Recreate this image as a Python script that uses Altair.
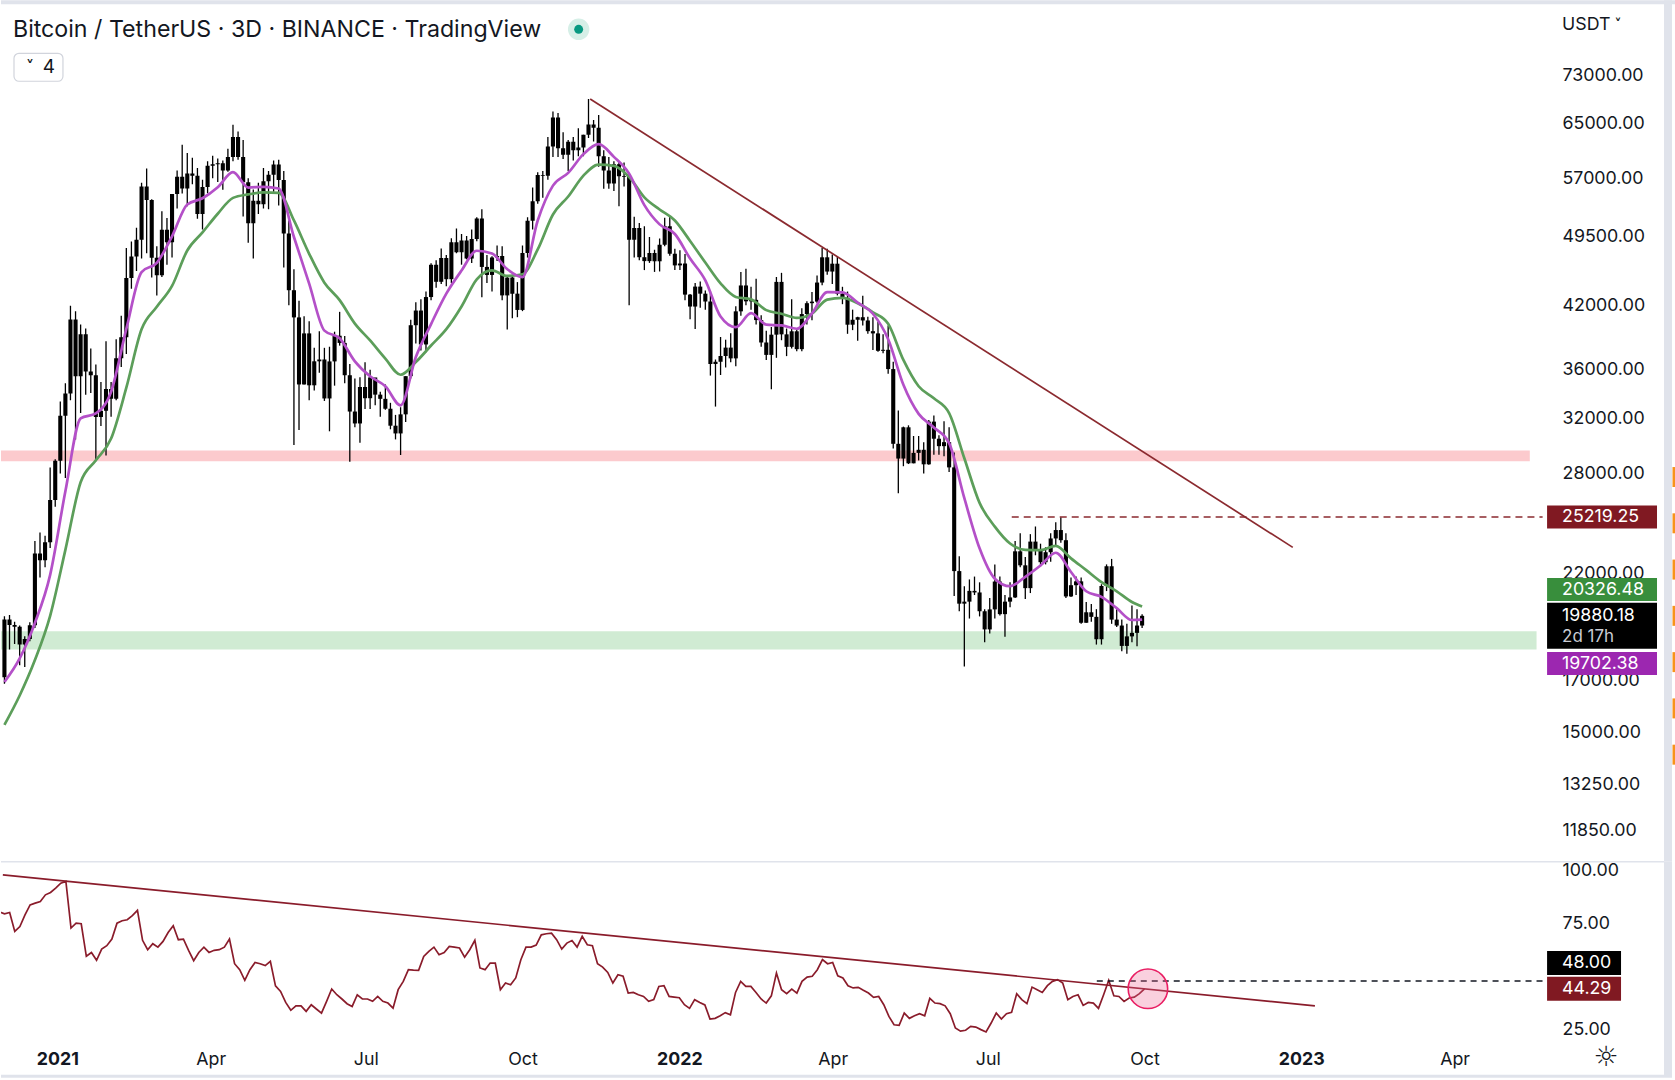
import altair as alt
import pandas as pd

# ---------------- data ----------------
BAR_START = "2020-11-28"          # 3-day bars
FIRST_OPEN = 17150

close = [19700, 19450, 19360, 18550, 18800, 19430, 23100, 22720, 23730, 26280,
         28880, 32180, 33950, 40580, 35400, 39150, 35790, 35470, 32090, 32570,
         34320, 33520, 36950, 38880, 44850, 47230, 49160, 55890, 54090, 47070,
         45140, 50350, 48880, 54880, 57220, 55630, 57650, 57350, 52300, 55820,
         58740, 58980, 59120, 58080, 60000, 62960, 60000, 56470, 51150, 54000,
         53560, 56610, 57500, 58930, 56770, 49920, 43540, 40780, 34700, 39240,
         34630, 36690, 36850, 33550, 36680, 39020, 38350, 35480, 32510, 31590,
         34490, 33570, 35290, 33860, 33520, 32730, 31420, 30840, 32290, 35400,
         40020, 41460, 38210, 42830, 46290, 44430, 47050, 44710, 48870, 47700,
         49070, 46990, 49250, 51760, 46050, 45170, 47110, 47280, 43000, 44880,
         43180, 41520, 47630, 51470, 53950, 57470, 57350, 61530, 66000, 61290,
         60330, 62250, 61000, 61400, 63300, 64880, 64400, 60100, 58100, 56300,
         58960, 57270, 57180, 49150, 50590, 47140, 46700, 47630, 46680, 48590,
         50780, 47540, 46220, 46430, 43080, 41860, 43920, 43180, 42370, 36450,
         36650, 37160, 37920, 36950, 41380, 44040, 42390, 42540, 40520, 38390,
         37260, 39120, 44420, 39150, 37990, 39440, 37780, 41110, 42200, 42360,
         44350, 47130, 45540, 46410, 43170, 42750, 40070, 40550, 40800, 40480,
         39450, 39240, 37630, 37720, 36010, 30080, 29030, 31300, 28700, 29430,
         29650, 28630, 31730, 30450, 29910, 30200, 28420, 22140, 20470, 20570,
         21110, 21030, 20100, 19240, 20190, 21590, 19960, 20570, 20780, 23220,
         22450, 21250, 23770, 23270, 22620, 23170, 23950, 24440, 23850, 20830,
         21400, 21600, 19550, 20050, 19830, 18790, 21360, 22400, 19700, 19420,
         18490, 18920, 19080, 19420, 19880.18]

high = [19860, 19920, 19600, 19420, 18930, 19570, 23800, 24300, 24100, 28420,
        28990, 33300, 34800, 41950, 41400, 40100, 39700, 37850, 36400, 34900,
        38500, 34900, 38700, 40950, 48200, 48950, 50600, 56400, 58350, 54200,
        48400, 52650, 51800, 54900, 58100, 61800, 60600, 59900, 58450, 56800,
        59400, 60200, 59800, 59500, 61200, 64850, 63800, 62500, 57000, 55500,
        56400, 58450, 58000, 59500, 59600, 58000, 51500, 45800, 42450, 40900,
        40400, 37900, 39450, 37900, 38000, 39400, 41330, 39000, 36450, 35200,
        35300, 36600, 35950, 35100, 34100, 34700, 33200, 32250, 32850, 35400,
        40550, 42300, 42600, 43400, 46450, 46800, 48150, 47400, 49350, 50500,
        49850, 49600, 50400, 51900, 52900, 47400, 47250, 48500, 48400, 45000,
        45200, 44400, 48500, 51900, 55750, 57850, 58000, 62950, 66950, 66700,
        63700, 62500, 62950, 64300, 63300, 69000, 65600, 66400, 61000, 60000,
        59400, 59300, 59200, 57600, 51950, 51200, 50800, 49500, 48000, 49300,
        51850, 52100, 48100, 47950, 47500, 43150, 44300, 44450, 43500, 43500,
        36850, 38900, 38650, 39250, 41900, 45500, 45850, 43900, 44750, 41000,
        39500, 39850, 44950, 45400, 39700, 42600, 39600, 41700, 42400, 43350,
        45100, 48200, 48100, 47450, 47200, 43900, 43400, 41550, 40850, 42950,
        40850, 40800, 40350, 39150, 40000, 36650, 32600, 31350, 31450, 30650,
        30650, 30200, 31850, 32200, 30700, 31750, 31300, 29450, 22950, 21350,
        21700, 21850, 21550, 20200, 20750, 22500, 21850, 20900, 21550, 23800,
        24250, 22900, 24200, 24650, 23650, 23450, 24250, 24900, 25200, 24250,
        21800, 21850, 21800, 20550, 20450, 20200, 21450, 22500, 22800, 20200,
        19700, 19500, 20380, 20200, 19950]

low = [16880, 18330, 18580, 17650, 17570, 18700, 19300, 21800, 22350, 23400,
       25850, 28000, 27700, 33400, 30400, 32400, 33850, 34000, 28850, 31400,
       29240, 32100, 33400, 36200, 37350, 43700, 45600, 47000, 47600, 44900,
       43000, 44950, 46300, 47100, 53000, 54960, 53300, 56200, 51700, 50400,
       55000, 57000, 56500, 55450, 57900, 59400, 59600, 52000, 48800, 47000,
       52300, 53000, 52900, 55200, 53400, 46000, 42000, 30000, 31100, 34700,
       33400, 34200, 35700, 33350, 31000, 34600, 38100, 34800, 28800, 31300,
       30150, 32700, 32700, 33000, 32100, 32650, 31150, 30400, 29280, 31700,
       35200, 38300, 37650, 37500, 42500, 43800, 44200, 43950, 44300, 47600,
       46300, 46900, 46500, 49000, 42800, 44300, 43400, 46700, 42500, 39600,
       40700, 40800, 41400, 47100, 50400, 53600, 54400, 56800, 60000, 60000,
       59700, 58000, 59500, 60100, 60100, 62800, 62300, 58600, 55600, 55600,
       55300, 53300, 55900, 42000, 47100, 46800, 45700, 46500, 45500, 45550,
       48400, 47300, 45700, 45700, 42500, 40600, 39650, 41750, 41550, 35450,
       32900, 35500, 36150, 36600, 36250, 40950, 42000, 41550, 40100, 38000,
       36800, 34300, 37000, 38600, 37150, 37850, 37600, 37600, 40100, 40500,
       42200, 44050, 45200, 44200, 43000, 42100, 39200, 39550, 38550, 40000,
       39200, 37700, 37550, 37400, 35600, 29750, 26700, 28500, 28650, 28700,
       28900, 28000, 28600, 29300, 29300, 29200, 28100, 20850, 20100, 17600,
       19750, 20900, 19850, 18650, 19050, 19750, 19900, 18900, 20300, 20750,
       22350, 20700, 21000, 23000, 22400, 22500, 22650, 23550, 23700, 20750,
       20800, 20900, 19500, 19550, 19600, 18550, 18550, 21100, 19500, 19350,
       18250, 18150, 18650, 18470, 19300]

rsi = [80.5, 79.6, 80.2, 71.3, 73.6, 79.1, 83.8, 84.6, 85.4, 88.5,
       89.6, 91.7, 94.0, 94.8, 72.9, 75.2, 74.9, 59.6, 61.4, 57.7,
       63.0, 64.6, 67.7, 75.2, 76.3, 76.8, 78.7, 81.2, 67.1, 62.7,
       65.5, 63.9, 66.6, 70.8, 74.0, 67.4, 67.7, 62.4, 57.5, 61.4,
       63.9, 61.4, 62.4, 62.7, 63.9, 67.7, 56.1, 53.3, 48.3, 53.3,
       56.7, 56.1, 55.2, 57.2, 45.7, 43.1, 37.9, 34.2, 36.3, 36.3,
       33.7, 36.8, 34.8, 32.9, 38.4, 44.2, 41.5, 39.5, 37.3, 36.0,
       41.5, 39.5, 39.5, 38.4, 40.7, 38.4, 37.6, 35.2, 43.9, 47.8,
       53.3, 53.1, 53.0, 59.5, 61.9, 63.9, 60.3, 61.4, 64.2, 63.9,
       63.5, 59.2, 62.7, 67.1, 54.1, 53.3, 56.4, 56.4, 43.9, 47.0,
       46.2, 49.4, 58.0, 63.9, 63.9, 64.9, 69.7, 70.2, 70.5, 67.4,
       63.0, 65.8, 67.0, 63.9, 69.0, 65.0, 64.6, 56.1, 54.5, 52.0,
       47.0, 50.9, 50.2, 42.3, 42.6, 41.5, 40.7, 38.4, 39.2, 45.4,
       45.8, 40.7, 40.4, 40.1, 36.8, 35.1, 39.2, 37.9, 36.7, 30.1,
       30.4, 31.6, 33.1, 32.1, 42.6, 47.8, 45.4, 45.4, 42.6, 39.5,
       37.6, 41.0, 51.7, 43.9, 42.0, 44.2, 42.3, 47.8, 49.8, 50.2,
       53.3, 58.0, 56.1, 56.7, 50.4, 49.4, 45.7, 44.7, 45.0, 43.6,
       42.3, 40.3, 40.7, 36.8, 31.3, 27.4, 27.1, 32.9, 30.4, 31.6,
       32.6, 31.6, 39.8, 37.6, 37.3, 36.3, 32.6, 25.9, 24.4, 24.8,
       26.6, 26.3, 25.1, 24.0, 28.2, 32.9, 30.1, 32.6, 33.2, 42.0,
       39.2, 37.3, 45.1, 43.9, 42.6, 45.8, 47.8, 48.6, 47.0, 39.2,
       40.7, 41.5, 36.5, 37.9, 37.6, 35.1, 41.5, 48.3, 41.0, 40.7,
       38.4, 40.0, 40.4, 42.0, 44.29]

# moving averages read every third bar (bars 0, 3, ..., 222 and the last bar 224)
ema_fast = [16950, 17940, 19540, 21940, 26830, 31980, 32370, 34100, 39670, 45480,
            46510, 49580, 53520, 54330, 55790, 57860, 55750, 55850, 55620, 49490,
            44230, 39500, 38780, 36690, 35390, 34550, 33000, 37070, 40130, 43180,
            45650, 47880, 47560, 45800, 44940, 51500, 56010, 57750, 60420, 61880,
            60020, 57650, 53440, 51020, 49850, 46990, 44590, 40870, 39830, 41200,
            40070, 40000, 39680, 41180, 43330, 43320, 42250, 41140, 38690, 34670,
            32330, 31290, 30130, 26390, 23390, 21740, 21350, 21840, 22440, 23140,
            22090, 21090, 20810, 20250, 19680, 19702.38]
ema_slow = [15290, 16410, 17870, 19880, 23300, 27420, 28910, 30460, 34430, 39630,
            41830, 43990, 47910, 50040, 52340, 54380, 54840, 55110, 55050, 51500,
            47530, 44340, 42510, 40180, 38580, 36930, 35520, 36620, 38110, 39640,
            41870, 44700, 45660, 45060, 45240, 48030, 52250, 54560, 57380, 58920,
            58730, 57190, 54440, 52880, 51500, 49020, 46540, 44260, 42840, 42590,
            41500, 41140, 40730, 41160, 42560, 42740, 42190, 41290, 40160, 36810,
            34550, 33560, 32390, 29050, 26090, 24640, 23660, 23300, 23290, 23530,
            22830, 22190, 21560, 21090, 20550, 20326.48]

support_zone = [18330, 19150]
resistance_zone = [28850, 29600]
trend_dates = ["2021-11-09", "2022-12-29"]
trend_prices = [69000, 23440]
high_level = 25219.25
high_level_start = "2022-07-16"

rsi_trend_dates = ["2020-11-30", "2023-01-09"]
rsi_trend_values = [97.9, 36.3]
rsi_level = 48.0
rsi_level_start = "2022-09-03"
circle_date = "2022-10-03"
circle_value = 44.3

PRICE_TICKS = [73000, 65000, 57000, 49500, 42000, 36000, 32000, 28000, 22000,
               17000, 15000, 13250, 11850]
RSI_TICKS = [25, 75, 100]
TIME_TICKS = ["2021-01-01", "2021-04-01", "2021-07-01", "2021-10-01", "2022-01-01",
              "2022-04-01", "2022-07-01", "2022-10-01", "2023-01-01", "2023-04-01"]

# ---------------- tables ----------------
N = len(close)
bar_dates = pd.date_range(BAR_START, periods=N, freq="3D")
opens = [FIRST_OPEN] + close[:-1]
candles = pd.DataFrame({"date": bar_dates.strftime("%Y-%m-%d"), "open": opens,
                        "close": close, "high": high, "low": low})
ema_idx = list(range(0, N - 2, 3)) + [N - 1]
ema_df = pd.DataFrame({"date": bar_dates[ema_idx].strftime("%Y-%m-%d"),
                       "fast": ema_fast, "slow": ema_slow})
rsi_df = pd.DataFrame({"date": bar_dates.strftime("%Y-%m-%d"), "rsi": rsi})

# ---------------- layout constants ----------------
W, H_PRICE, H_RSI = 1545, 862, 178
FONT = "Inter"
INK = "#131722"
DARKRED = "#801922"


def ms(t):
    return int(pd.Timestamp(t).value // 10**6)


origin = pd.Timestamp("2021-01-01")
t_start = origin + pd.Timedelta(days=-56.4 / 1.705)
t_end = t_start + pd.Timedelta(days=W / 1.705)
x_scale = alt.Scale(type="utc", domain=[ms(t_start), ms(t_end)])
right_end = (t_end + pd.Timedelta(days=1.5)).strftime("%Y-%m-%dT%H:%M")
left_start = "2020-11-20"

price_scale = alt.Scale(type="log", domain=[10995, 87500], nice=False, zero=False)
price_axis = alt.Axis(orient="right", values=PRICE_TICKS, format=".2f", ticks=False,
                      domain=False, grid=False, labelPadding=17, labelFont=FONT,
                      labelFontSize=17.8, labelColor=INK, title=None,
                      labelOverlap=False, labelFlush=False)
rsi_scale = alt.Scale(domain=[20.36, 104.04], nice=False, zero=False)
rsi_axis = alt.Axis(orient="right", values=RSI_TICKS, format=".2f", ticks=False,
                    domain=False, grid=False, labelPadding=17, labelFont=FONT,
                    labelFontSize=17.8, labelColor=INK, title=None,
                    labelOverlap=False, labelFlush=False)
time_axis = alt.Axis(values=[ms(d) for d in TIME_TICKS],
                     labelExpr="utcmonth(datum.value) == 0 ? utcFormat(datum.value, '%Y') : utcFormat(datum.value, '%b')",
                     labelFontWeight={"condition": {"test": "utcmonth(datum.value) == 0", "value": "bold"}, "value": "normal"},
                     ticks=False, domain=False, grid=False, labelPadding=11,
                     labelFont=FONT, labelFontSize=17.8, labelColor=INK, title=None,
                     labelOverlap=False, labelFlush=False)


def PX(field):
    return alt.X(field, type="temporal", scale=x_scale, axis=None)


def PY(field):
    return alt.Y(field, type="quantitative", scale=price_scale, axis=price_axis)


def RX(field):
    return alt.X(field, type="temporal", scale=x_scale, axis=time_axis)


def RY(field):
    return alt.Y(field, type="quantitative", scale=rsi_scale, axis=rsi_axis)


def box_path(half_h):
    return f"M-1,-{half_h}L1,-{half_h}L1,{half_h}L-1,{half_h}Z"


def one(**kw):
    return pd.DataFrame({k: [v] for k, v in kw.items()})


# ---------------- price pane ----------------
zones = pd.DataFrame({"x1": [left_start, left_start], "x2": ["2023-05-18", "2023-05-22"],
                      "lo": [resistance_zone[0], support_zone[0]],
                      "hi": [resistance_zone[1], support_zone[1]],
                      "kind": ["resistance", "support"]})
zone_layer = alt.Chart(zones).mark_rect(clip=True).encode(
    x=PX("x1"), x2="x2:T", y=PY("lo"), y2="hi:Q",
    color=alt.Color("kind:N", legend=None,
                    scale=alt.Scale(domain=["resistance", "support"], range=["#fccacd", "#d0ebd3"])))

wicks = alt.Chart(candles).mark_rule(color="#000000", strokeWidth=1.3, clip=True).encode(
    x=PX("date"), y=PY("low"), y2="high:Q")
bodies = alt.Chart(candles).mark_bar(color="#000000", size=4.1, clip=True).encode(
    x=PX("date"), y=PY("open"), y2="close:Q")

ema_slow_line = alt.Chart(ema_df).mark_line(color="#5c9e5a", strokeWidth=2.7, clip=True,
                                             interpolate="monotone").encode(x=PX("date"), y=PY("slow"))
ema_fast_line = alt.Chart(ema_df).mark_line(color="#b450c8", strokeWidth=2.7, clip=True,
                                             interpolate="monotone").encode(x=PX("date"), y=PY("fast"))

trend_df = pd.DataFrame({"date": trend_dates, "p": trend_prices})
trend_line = alt.Chart(trend_df).mark_line(color="#8b2a2f", strokeWidth=1.7, clip=True).encode(
    x=PX("date"), y=PY("p"))

level_line = alt.Chart(one(x1=high_level_start, x2=right_end, p=high_level)).mark_rule(
    color="#8b2a2f", strokeWidth=1.4, strokeDash=[7, 5]).encode(x=PX("x1"), x2="x2:T", y=PY("p"))

price_layers = [zone_layer, wicks, bodies, ema_slow_line, ema_fast_line, trend_line, level_line]

BOX_X = 1602
TXT_X = 1562
price_labels = [
    # value, text, box colour, box offset, box half-height
    (high_level, "25219.25", DARKRED, 0, 0.209),
    (20326.48, "20326.48", "#388e3c", -17, 0.209),
    (19880.18, "19880.18", "#000000", 10, 0.418),
    (19702.38, "19702.38", "#9c27b0", 44, 0.209),
]
for val, txt, col, off, hh in price_labels:
    d = one(p=val, t=txt)
    price_layers.append(alt.Chart(d).mark_point(
        shape=box_path(hh), size=12100, filled=True, opacity=1, strokeWidth=0,
        color=col, yOffset=off).encode(x=alt.value(BOX_X), y=PY("p")))
    toff = 0 if txt == "19880.18" else off
    price_layers.append(alt.Chart(d).mark_text(
        align="left", baseline="middle", color="#ffffff", font=FONT, fontSize=17.8,
        yOffset=toff).encode(x=alt.value(TXT_X), y=PY("p"), text="t:N"))
price_layers.append(alt.Chart(one(p=19880.18, t="2d 17h")).mark_text(
    align="left", baseline="middle", color="#c9ccd4", font=FONT, fontSize=17,
    yOffset=21).encode(x=alt.value(TXT_X), y=PY("p"), text="t:N"))

# header / UI decoration
TITLE = "Bitcoin / TetherUS · 3D · BINANCE · TradingView"
price_layers += [
    alt.Chart(one(a=1)).mark_rect(color="#e0e3eb").encode(
        x=alt.value(0), x2=alt.value(1675), y=alt.value(0), y2=alt.value(4)),
    alt.Chart(one(a=1)).mark_rect(color="#e0e3eb").encode(
        x=alt.value(1664), x2=alt.value(1672), y=alt.value(0), y2=alt.value(H_PRICE)),
    alt.Chart(one(t=TITLE)).mark_text(align="left", baseline="middle", font=FONT,
                                      fontSize=23.2, color=INK).encode(
        x=alt.value(12), y=alt.value(30), text="t:N"),
    alt.Chart(one(a=1)).mark_point(filled=True, opacity=1, size=460, color="#d6efe7").encode(
        x=alt.value(578), y=alt.value(29)),
    alt.Chart(one(a=1)).mark_point(filled=True, opacity=1, size=80, color="#089981").encode(
        x=alt.value(578), y=alt.value(29)),
    alt.Chart(one(a=1)).mark_rect(fill="#ffffff", stroke="#d1d4dc", strokeWidth=1.2,
                                  cornerRadius=5).encode(
        x=alt.value(13), x2=alt.value(62), y=alt.value(53), y2=alt.value(81)),
    alt.Chart(one(t="˅")).mark_text(align="center", baseline="middle", font="DejaVu Sans",
                                    fontSize=16, fontWeight="bold", color=INK).encode(
        x=alt.value(29), y=alt.value(67), text="t:N"),
    alt.Chart(one(t="4")).mark_text(align="center", baseline="middle", font=FONT,
                                    fontSize=19, color=INK).encode(
        x=alt.value(48), y=alt.value(67), text="t:N"),
    alt.Chart(one(t="USDT")).mark_text(align="left", baseline="middle", font=FONT,
                                       fontSize=17.8, color=INK).encode(
        x=alt.value(1562), y=alt.value(25), text="t:N"),
    alt.Chart(one(t="˅")).mark_text(align="center", baseline="middle", font="DejaVu Sans",
                                    fontSize=14, fontWeight="bold", color=INK).encode(
        x=alt.value(1618), y=alt.value(25), text="t:N"),
]
for k in range(7):
    y0 = 467 + 46.3 * k
    price_layers.append(alt.Chart(one(a=k)).mark_rect(color="#f7931a").encode(
        x=alt.value(1672.5), x2=alt.value(1675), y=alt.value(y0), y2=alt.value(y0 + 20)))

price_chart = alt.layer(*price_layers).properties(width=W, height=H_PRICE)

# ---------------- RSI pane ----------------
rsi_line = alt.Chart(rsi_df).mark_line(color="#8a1c2b", strokeWidth=1.7, clip=True).encode(
    x=RX("date"), y=RY("rsi"))
rsi_trend = alt.Chart(pd.DataFrame({"date": rsi_trend_dates, "v": rsi_trend_values})).mark_line(
    color="#8a1c2b", strokeWidth=1.7, clip=True).encode(x=RX("date"), y=RY("v"))
rsi_level_line = alt.Chart(one(x1=rsi_level_start, x2=right_end, v=rsi_level)).mark_rule(
    color=INK, strokeWidth=1.5, strokeDash=[6, 5]).encode(x=RX("x1"), x2="x2:T", y=RY("v"))
rsi_circle = alt.Chart(one(date=circle_date, v=circle_value)).mark_point(
    shape="circle", size=1560, filled=False, fill="#f06292", fillOpacity=0.3,
    stroke="#e91e63", strokeWidth=1.6, opacity=1).encode(x=RX("date"), y=RY("v"))

rsi_layers = [
    alt.Chart(one(a=1)).mark_rule(color="#e0e3eb", strokeWidth=1.5).encode(
        x=alt.value(0), x2=alt.value(1664), y=alt.value(0)),
    rsi_trend, rsi_line, rsi_level_line, rsi_circle,
]
RBOX_X = 1584
for val, txt, col, off in [(48.0, "48.00", "#000000", -18), (44.29, "44.29", DARKRED, 0)]:
    d = one(v=val, t=txt)
    rsi_layers.append(alt.Chart(d).mark_point(
        shape=box_path(0.324), size=5476, filled=True, opacity=1, strokeWidth=0,
        color=col, yOffset=off).encode(x=alt.value(RBOX_X), y=RY("v")))
    rsi_layers.append(alt.Chart(d).mark_text(
        align="left", baseline="middle", color="#ffffff", font=FONT, fontSize=17.8,
        yOffset=off).encode(x=alt.value(TXT_X), y=RY("v"), text="t:N"))
rsi_layers += [
    alt.Chart(one(a=1)).mark_rect(color="#e0e3eb").encode(
        x=alt.value(1664), x2=alt.value(1672), y=alt.value(0), y2=alt.value(214)),
    alt.Chart(one(a=1)).mark_rect(color="#e0e3eb").encode(
        x=alt.value(0), x2=alt.value(1672), y=alt.value(213), y2=alt.value(216)),
    alt.Chart(one(t="☼")).mark_text(align="center", baseline="middle", font="DejaVu Sans",
                                    fontSize=28, color=INK).encode(
        x=alt.value(1606), y=alt.value(196), text="t:N"),
]
rsi_chart = alt.layer(*rsi_layers).properties(width=W, height=H_RSI)

chart = alt.vconcat(price_chart, rsi_chart, spacing=0, bounds="flush").properties(
    padding=0, background="#ffffff").configure_view(stroke=None)

chart.save("out.html", embed_options={"renderer": "svg", "actions": False})
